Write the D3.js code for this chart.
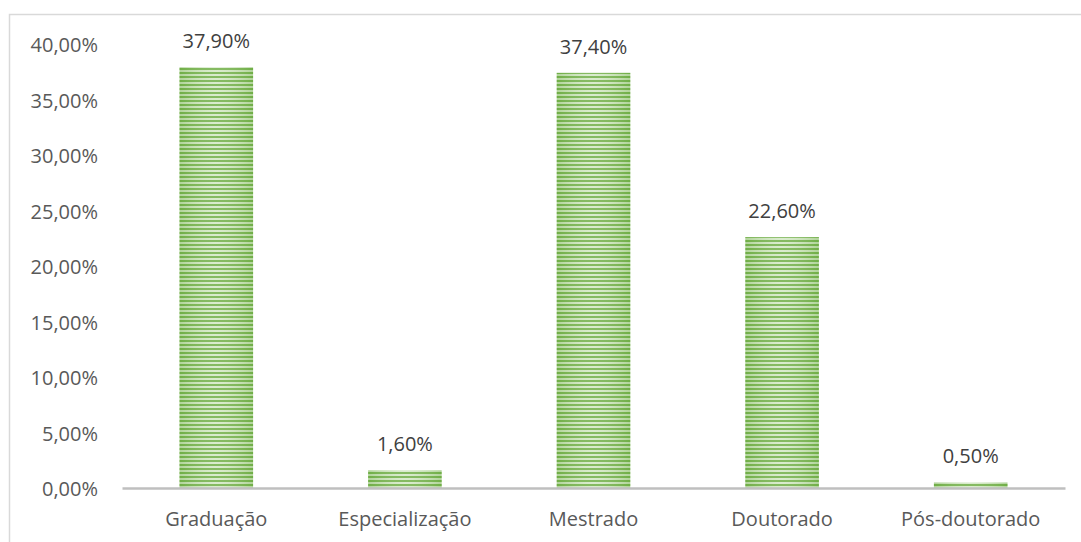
<!DOCTYPE html>
<html>
<head>
<meta charset="utf-8">
<script src="https://cdn.jsdelivr.net/npm/d3@7"></script>
<style>
  body { margin: 0; background: #fff; }
  svg { display: block; }
</style>
</head>
<body>
<svg width="1081" height="542"></svg>
<script>
const categories = ["Graduação", "Especialização", "Mestrado", "Doutorado", "Pós-doutorado"];
const values = [37.9, 1.6, 37.4, 22.6, 0.5];
const yTicks = [0, 5, 10, 15, 20, 25, 30, 35, 40];

const svg = d3.select("svg");
const width = 1081;
const height = 542;
const fmt = v => v.toFixed(2).replace(".", ",") + "%";

// chart frame
svg.append("rect")
  .attr("x", 9.5).attr("y", 14.5)
  .attr("width", width + 20).attr("height", height + 20)
  .attr("fill", "none")
  .attr("stroke", "#d9d9d9")
  .attr("stroke-width", 1.5);

const x = d3.scaleBand()
  .domain(categories)
  .range([122, 1065])
  .paddingInner(0.61)
  .paddingOuter(0.305);

const y = d3.scaleLinear()
  .domain([0, 40])
  .range([488, 44]);

const defs = svg.append("defs");
const pat = defs.append("pattern")
  .attr("id", "stripes")
  .attr("patternUnits", "userSpaceOnUse")
  .attr("width", 8).attr("height", 4);
pat.append("rect").attr("width", 8).attr("height", 4).attr("fill", "#d3e8c5");
pat.append("rect").attr("width", 8).attr("height", 2).attr("fill", "#6fae45");

const grad = defs.append("linearGradient")
  .attr("id", "shine")
  .attr("x1", "0%").attr("x2", "100%");
grad.append("stop").attr("offset", "0%").attr("stop-color", "#70ad47").attr("stop-opacity", 0.35);
grad.append("stop").attr("offset", "50%").attr("stop-color", "#ffffff").attr("stop-opacity", 0.15);
grad.append("stop").attr("offset", "100%").attr("stop-color", "#70ad47").attr("stop-opacity", 0.35);

// y axis labels
const yAxis = d3.axisLeft(y).tickValues(yTicks).tickFormat(fmt).tickSize(0).tickPadding(0);
svg.append("g")
  .attr("transform", "translate(98,0)")
  .call(yAxis)
  .call(g => g.select(".domain").remove())
  .call(g => g.selectAll("text")
    .attr("font-family", "Open Sans")
    .attr("font-size", 20)
    .attr("dy", "0.38em")
    .attr("fill", "#595959"));

const bars = svg.append("g");
bars.selectAll("rect.bar")
  .data(values)
  .join("rect")
  .attr("class", "bar")
  .attr("x", (d, i) => x(categories[i]))
  .attr("width", x.bandwidth())
  .attr("y", d => y(d))
  .attr("height", d => y(0) - y(d))
  .attr("fill", "url(#stripes)");
bars.selectAll("rect.shine")
  .data(values)
  .join("rect")
  .attr("class", "shine")
  .attr("x", (d, i) => x(categories[i]))
  .attr("width", x.bandwidth())
  .attr("y", d => y(d))
  .attr("height", d => y(0) - y(d))
  .attr("fill", "url(#shine)");

// x axis
const xAxis = d3.axisBottom(x).tickSize(0).tickPadding(0);
svg.append("g")
  .attr("transform", `translate(0,${y(0)})`)
  .call(xAxis)
  .call(g => g.select(".domain").attr("stroke", "#bfbfbf").attr("stroke-width", 2.5))
  .call(g => g.selectAll("text")
    .attr("font-family", "Open Sans")
    .attr("font-size", 20)
    .attr("dy", 0)
    .attr("y", 38)
    .attr("fill", "#595959"));

// value labels
svg.append("g")
  .selectAll("text")
  .data(values)
  .join("text")
  .attr("x", (d, i) => x(categories[i]) + x.bandwidth() / 2)
  .attr("y", d => y(d) - 19)
  .attr("text-anchor", "middle")
  .attr("font-family", "Open Sans")
  .attr("font-size", 20)
  .attr("fill", "#404040")
  .text(fmt);
</script>
</body>
</html>
